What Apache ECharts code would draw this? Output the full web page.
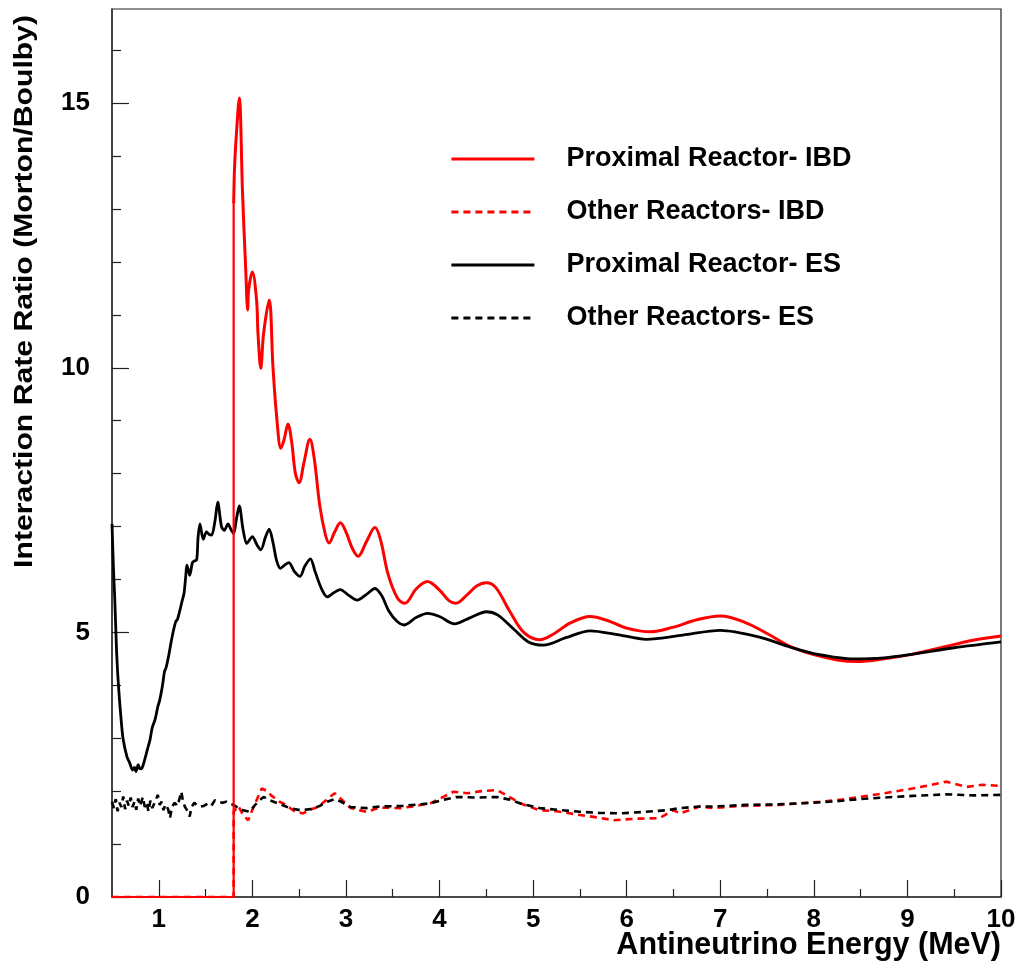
<!DOCTYPE html>
<html>
<head>
<meta charset="utf-8">
<title>Interaction Rate Ratio</title>
<script src="https://cdn.jsdelivr.net/npm/echarts@6/dist/echarts.min.js"></script>
<style>
  html, body { margin: 0; padding: 0; background: #fff; }
  #chart { width: 1020px; height: 972px; }
</style>
</head>
<body>
<div id="chart"></div>
<script>
// Energy grids (MeV) and rate ratios for each curve.

// Proximal reactor, IBD: zero below threshold, then the oscillating ratio.
const ibdProxStepE = [0.5, 1.8, 1.8];
const ibdProxStepR = [0, 0, 13.1];
const ibdProxE = [1.8, 1.81, 1.83, 1.86, 1.895, 1.928, 1.95, 1.96, 2.0, 2.045, 2.06, 2.09, 2.12, 2.18, 2.22, 2.26, 2.305,
  2.34, 2.38, 2.42, 2.46, 2.5, 2.55, 2.615, 2.66, 2.72, 2.78, 2.82, 2.88, 2.94, 3.0, 3.07, 3.13, 3.22, 3.31, 3.37,
  3.45, 3.55, 3.63, 3.75, 3.87, 4.0, 4.1, 4.175, 4.3, 4.4, 4.5, 4.6, 4.75, 4.9, 5.07, 5.2, 5.4, 5.61, 5.8, 6.0,
  6.25, 6.5, 6.75, 7.0, 7.25, 7.5, 7.75, 8.0, 8.25, 8.46, 8.75, 9.06, 9.4, 9.7, 10.0];
const ibdProxR = [13.1, 13.8, 14.43, 15.1, 13.3, 11.9, 11.09, 11.47, 11.81, 11.28, 10.65, 9.99, 10.65, 11.28, 10.02, 9.07, 8.48,
  8.65, 8.94, 8.6, 8.0, 7.83, 8.2, 8.65, 8.3, 7.4, 6.85, 6.69, 6.9, 7.07, 6.9, 6.58, 6.44, 6.72, 6.98, 6.75,
  6.1, 5.65, 5.55, 5.82, 5.96, 5.8, 5.6, 5.55, 5.72, 5.88, 5.94, 5.85, 5.4, 5.0, 4.86, 4.95, 5.18, 5.3, 5.22, 5.08,
  5.01, 5.1, 5.24, 5.31, 5.2, 4.98, 4.73, 4.58, 4.48, 4.45, 4.5, 4.59, 4.73, 4.85, 4.93];

// Other reactors, IBD.
const ibdOtherE = [0.5, 1.8, 1.8, 1.85, 1.9, 1.956, 2.0, 2.05, 2.1, 2.12, 2.16, 2.2, 2.29, 2.35, 2.45, 2.54, 2.62, 2.7,
  2.8, 2.88, 2.95, 3.05, 3.22, 3.36, 3.58, 3.75, 3.9, 4.05, 4.15, 4.3, 4.45, 4.61, 4.72, 4.86, 5.07, 5.25, 5.5,
  5.7, 5.86, 6.1, 6.35, 6.5, 6.57, 6.78, 6.92, 7.2, 7.63, 8.06, 8.3, 8.49, 8.75, 8.99, 9.2, 9.42, 9.63, 9.8, 10.0];
const ibdOtherR = [0, 0, 1.61, 1.72, 1.55, 1.45, 1.65, 1.85, 2.05, 2.05, 2.0, 1.92, 1.8, 1.75, 1.62, 1.58, 1.65, 1.7,
  1.85, 1.96, 1.85, 1.68, 1.61, 1.69, 1.68, 1.72, 1.77, 1.9, 1.99, 1.96, 2.0, 2.02, 1.92, 1.77, 1.64, 1.62, 1.55,
  1.5, 1.45, 1.48, 1.49, 1.64, 1.58, 1.71, 1.68, 1.72, 1.74, 1.8, 1.84, 1.89, 1.96, 2.03, 2.1, 2.18, 2.08, 2.12, 2.1];

// Proximal reactor, ES.
const esProxE = [0.5, 0.515, 0.53, 0.55, 0.57, 0.6, 0.62, 0.66, 0.69, 0.72, 0.74, 0.756, 0.78, 0.8, 0.82, 0.85, 0.88,
  0.906, 0.93, 0.96, 0.99, 1.01, 1.04, 1.06, 1.08, 1.11, 1.13, 1.15, 1.18, 1.2, 1.226, 1.25, 1.27, 1.29, 1.3, 1.32,
  1.33, 1.36, 1.38, 1.405, 1.42, 1.44, 1.475, 1.51, 1.54, 1.565, 1.6, 1.63, 1.67, 1.7, 1.74, 1.77, 1.8, 1.83, 1.86,
  1.9, 1.94, 1.97, 2.0, 2.05, 2.09, 2.14, 2.18, 2.22, 2.26, 2.3, 2.35, 2.39, 2.45, 2.51, 2.56, 2.62, 2.67, 2.74,
  2.8, 2.87, 2.94, 3.03, 3.12, 3.22, 3.31, 3.38, 3.46, 3.55, 3.62, 3.75, 3.87, 4.0, 4.16, 4.33, 4.5, 4.62, 4.8,
  4.95, 5.11, 5.35, 5.61, 5.9, 6.21, 6.6, 7.0, 7.4, 7.75, 8.0, 8.42, 8.75, 9.06, 9.5, 10.0];
const esProxR = [7.05, 6.24, 5.61, 4.6, 3.97, 3.3, 2.97, 2.65, 2.53, 2.4, 2.45, 2.37, 2.5, 2.42, 2.43, 2.6, 2.8,
  2.97, 3.2, 3.35, 3.6, 3.72, 4.0, 4.25, 4.35, 4.6, 4.8, 4.98, 5.2, 5.25, 5.42, 5.6, 5.74, 6.1, 6.27, 6.15,
  6.08, 6.32, 6.35, 6.37, 6.8, 7.05, 6.76, 6.9, 6.85, 6.84, 7.1, 7.46, 7.0, 6.93, 7.05, 6.95, 6.87, 7.15, 7.39,
  6.95, 6.68, 6.75, 6.81, 6.65, 6.56, 6.8, 6.95, 6.7, 6.35, 6.21, 6.28, 6.32, 6.15, 6.06, 6.25, 6.39, 6.15, 5.82,
  5.67, 5.75, 5.81, 5.7, 5.61, 5.72, 5.83, 5.7, 5.4, 5.2, 5.14, 5.28, 5.36, 5.3, 5.16, 5.28, 5.39, 5.33, 5.05,
  4.82, 4.76, 4.9, 5.03, 4.96, 4.87, 4.95, 5.04, 4.92, 4.72, 4.6, 4.5, 4.52, 4.59, 4.71, 4.82];

// Other reactors, ES.
const esOtherE = [0.5, 0.52, 0.54, 0.56, 0.58, 0.6, 0.62, 0.64, 0.66, 0.68, 0.7, 0.72, 0.74, 0.76, 0.78, 0.8, 0.83,
  0.85, 0.87, 0.89, 0.91, 0.93, 0.96, 0.99, 1.01, 1.03, 1.05, 1.07, 1.1, 1.12, 1.14, 1.17, 1.2, 1.22, 1.24, 1.26,
  1.28, 1.31, 1.33, 1.35, 1.38, 1.41, 1.44, 1.48, 1.52, 1.56, 1.6, 1.64, 1.68, 1.72, 1.76, 1.8, 1.85, 1.9, 1.97,
  2.02, 2.07, 2.12, 2.2, 2.3, 2.4, 2.51, 2.62, 2.72, 2.8, 2.88, 2.95, 3.05, 3.22, 3.36, 3.6, 3.9, 4.05, 4.18, 4.4,
  4.61, 4.75, 4.86, 5.07, 5.3, 5.5, 5.7, 5.93, 6.2, 6.43, 6.57, 6.78, 6.92, 7.28, 7.6, 7.99, 8.25, 8.49, 8.75,
  9.06, 9.42, 9.7, 10.0];
const esOtherR = [1.8, 1.68, 1.85, 1.62, 1.78, 1.7, 1.9, 1.66, 1.82, 1.72, 1.88, 1.7, 1.8, 1.65, 1.86, 1.72, 1.89,
  1.7, 1.78, 1.62, 1.82, 1.68, 1.8, 1.93, 1.74, 1.8, 1.64, 1.75, 1.66, 1.49, 1.7, 1.78, 1.72, 1.85, 1.99, 1.8,
  1.7, 1.62, 1.52, 1.7, 1.78, 1.73, 1.71, 1.72, 1.76, 1.72, 1.83, 1.8, 1.78, 1.8, 1.76, 1.74, 1.68, 1.64, 1.61,
  1.72, 1.82, 1.89, 1.82, 1.75, 1.68, 1.64, 1.66, 1.72, 1.8, 1.85, 1.8, 1.7, 1.68, 1.71, 1.72, 1.77, 1.84, 1.89, 1.88,
  1.89, 1.84, 1.77, 1.68, 1.64, 1.61, 1.59, 1.58, 1.61, 1.64, 1.68, 1.71, 1.71, 1.74, 1.75, 1.78, 1.81, 1.85, 1.88,
  1.91, 1.94, 1.92, 1.93];

// Axis ticks and labels.
const xMajorTicks = [1, 2, 3, 4, 5, 6, 7, 8, 9, 10];
const xMinorTicks = [1.5, 2.5, 3.5, 4.5, 5.5, 6.5, 7.5, 8.5, 9.5];
const yMajorTicks = [0, 5, 10, 15];
const yMinorTicks = [1, 2, 3, 4, 6, 7, 8, 9, 11, 12, 13, 14, 16];

const seriesNames = ['Proximal Reactor- IBD', 'Other Reactors- IBD', 'Proximal Reactor- ES', 'Other Reactors- ES'];
const xTitle = 'Antineutrino Energy (MeV)';
const yTitle = 'Interaction Rate Ratio (Morton/Boulby)';

const zip = (xs, ys) => xs.map((x, i) => [x, ys[i]]);

const FONT = '"Liberation Sans", Arial, Helvetica, sans-serif';
const X_MIN = 0.5, X_MAX = 10, Y_MIN = 0, Y_MAX = 16.78;

const chart = echarts.init(document.getElementById('chart'), null, { renderer: 'canvas' });

function xAxisDef(ticks, len, withLabels) {
  return {
    type: 'value', min: X_MIN, max: X_MAX, position: 'bottom',
    axisLine: { show: withLabels, onZero: false, lineStyle: { color: '#333', width: 1.5 } },
    axisTick: { show: true, inside: true, length: len, customValues: ticks, lineStyle: { color: '#222', width: 1.2 } },
    axisLabel: withLabels ? {
      show: true, customValues: ticks, margin: 10,
      color: '#000', fontFamily: FONT, fontWeight: 'bold', fontSize: 26
    } : { show: false },
    splitLine: { show: false }
  };
}

function yAxisDef(ticks, len, withLabels) {
  return {
    type: 'value', min: Y_MIN, max: Y_MAX, position: 'left',
    axisLine: { show: withLabels, onZero: false, lineStyle: { color: '#333', width: 1.5 } },
    axisTick: { show: true, inside: true, length: len, customValues: ticks, lineStyle: { color: '#222', width: 1.2 } },
    axisLabel: withLabels ? {
      show: true, customValues: ticks, margin: 22,
      color: '#000', fontFamily: FONT, fontWeight: 'bold', fontSize: 26
    } : { show: false },
    splitLine: { show: false }
  };
}

const option = {
  backgroundColor: '#fff',
  animation: false,
  grid: {
    left: 112, right: 19, top: 9, bottom: 75,
    show: true, borderColor: '#222', borderWidth: 1.2, backgroundColor: 'transparent'
  },
  xAxis: [xAxisDef(xMajorTicks, 17, true), xAxisDef(xMinorTicks, 8, false)],
  yAxis: [yAxisDef(yMajorTicks, 17, true), yAxisDef(yMinorTicks, 9, false)],
  legend: {
    orient: 'vertical', left: 450, top: 144, padding: 0,
    itemWidth: 83, itemHeight: 14, itemGap: 23,
    itemStyle: { opacity: 0 },
    lineStyle: { width: 2.8 },
    data: seriesNames,
    textStyle: {
      fontFamily: FONT, fontWeight: 'bold', fontSize: 27, color: '#000',
      lineHeight: 30, padding: [0, 0, 0, 27]
    }
  },
  graphic: [
    {
      type: 'text', x: 1001, y: 946,
      style: { text: xTitle, align: 'right', verticalAlign: 'middle',
        font: 'bold 30.5px ' + FONT, fill: '#000' }
    },
    {
      // axis title reads upward, ending near the top of the frame
      type: 'text', x: 25, y: 15, rotation: Math.PI / 2, scaleX: 1.16,
      style: { text: yTitle, align: 'right', verticalAlign: 'middle',
        font: 'bold 26px ' + FONT, fill: '#000' }
    }
  ],
  series: [
    {
      name: seriesNames[0], type: 'line', data: zip(ibdProxE, ibdProxR),
      showSymbol: false, symbol: 'none', smooth: 0.35, z: 3,
      lineStyle: { color: '#ff0000', width: 3 }, itemStyle: { color: '#ff0000' }
    },
    {
      name: seriesNames[0], type: 'line', data: zip(ibdProxStepE, ibdProxStepR),
      showSymbol: false, symbol: 'none', z: 6,
      lineStyle: { color: '#ff0000', width: 2.2 }, itemStyle: { color: '#ff0000' }
    },
    {
      name: seriesNames[1], type: 'line', data: zip(ibdOtherE, ibdOtherR),
      showSymbol: false, symbol: 'none', z: 4,
      lineStyle: { color: '#ff0000', width: 2.6, type: [7, 5] }, itemStyle: { color: '#ff0000' }
    },
    {
      name: seriesNames[2], type: 'line', data: zip(esProxE, esProxR),
      showSymbol: false, symbol: 'none', smooth: 0.3, z: 5,
      lineStyle: { color: '#000', width: 2.8 }, itemStyle: { color: '#000' }
    },
    {
      name: seriesNames[3], type: 'line', data: zip(esOtherE, esOtherR),
      showSymbol: false, symbol: 'none', z: 5,
      lineStyle: { color: '#000', width: 2.6, type: [7, 5] }, itemStyle: { color: '#000' }
    }
  ]
};

chart.setOption(option);
</script>
</body>
</html>
